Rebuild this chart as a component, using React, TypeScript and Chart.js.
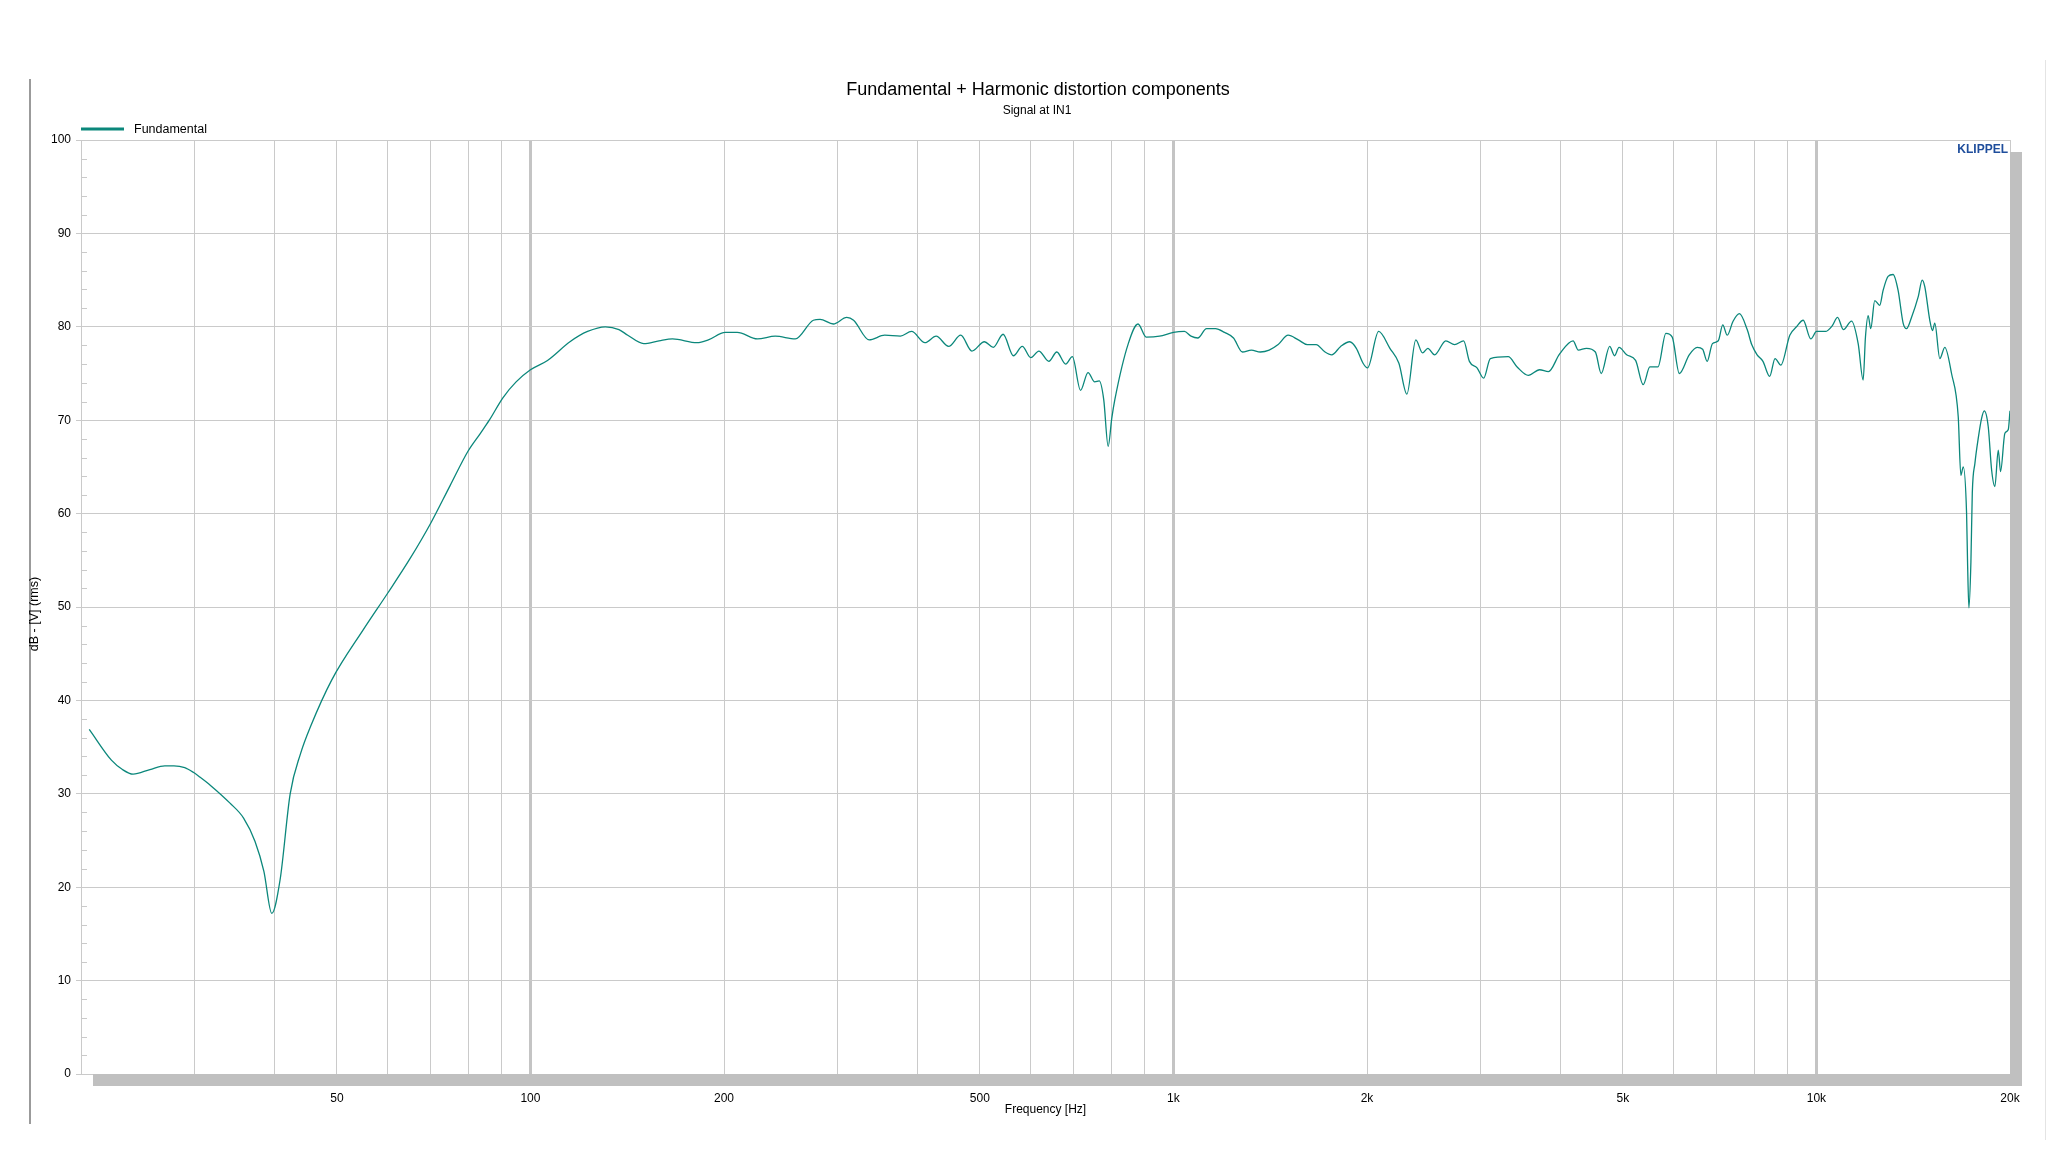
import { useEffect, useRef } from "react";
import { Chart, registerables } from "chart.js";

Chart.register(...registerables);

// ---------- data ----------
const FREQ_HZ = [
  20.6, 22.3, 23.2, 24.1, 25.6, 27.0, 27.9, 29.0, 29.9, 30.6, 31.8, 34.1, 35.8, 37.3, 38.5, 39.6, 40.8, 42.3, 43.9, 45.5,
  49.1, 55, 60, 65, 70, 75, 80, 83.6, 86.3, 90.6, 95, 100, 106.3, 115.2, 122.7, 130.8, 137.3, 141.7, 150, 158.5,
  166.3, 181.6, 189.1, 200.9, 209.7, 225.4, 240.3, 258.2, 275.4, 282.1, 295.9, 310.4, 318.1, 336.3, 355.6, 376.1, 391.5,
  410.8, 427.5, 447.1, 466.9, 485.9, 508.2, 524.6, 543.4, 563.8, 582, 600, 617.6, 640.1, 658.6, 679.8, 696.3, 717,
  736.5, 754.4, 766.6, 779.1, 791.6, 801.8, 810.7, 850.7, 881, 907, 951.5, 1000, 1040, 1065, 1091, 1126, 1163, 1201,
  1240, 1280, 1322, 1365, 1409, 1455, 1508, 1564, 1615, 1667, 1721, 1763, 1820, 1880, 1925, 1972, 2004, 2085, 2171,
  2242, 2307, 2382, 2440, 2487, 2548, 2652, 2737, 2827, 2886, 2966, 3037, 3111, 3316, 3424, 3564, 3710, 3830, 3987,
  4183, 4263, 4388, 4531, 4627, 4769, 4853, 4932, 5068, 5233, 5377, 5508, 5669, 5833, 5967, 6120, 6341, 6526, 6653,
  6761, 6891, 7037, 7150, 7266, 7419, 7589, 7804, 7931, 8086, 8257, 8458, 8623, 8804, 9090, 9311, 9536, 9801, 10005,
  10330, 10580, 10787, 11013, 11338, 11612, 11821, 11919, 12035, 12147, 12322, 12543, 12697, 12924, 13158, 13397,
  13640, 13805, 14055, 14395, 14605, 14740, 15007, 15152, 15278, 15555, 15837, 16222, 16615, 16772, 16917, 17120,
  17180, 17263, 17387, 17474, 17640, 17853, 18065, 18239, 18501, 18724, 18945, 19177, 19337, 19638, 19879, 20000,
];

const LEVEL_DB = [
  36.9, 33.6, 32.6, 32.1, 32.6, 33.0, 33.0, 32.8, 32.3, 31.8, 30.9, 29.0, 27.4, 24.9, 21.7, 17.2, 20.8, 30.0, 34.3, 37.2,
  42.2, 47.6, 51.5, 55.2, 59.0, 63.0, 66.7, 68.6, 70.0, 72.4, 74.1, 75.4, 76.4, 78.4, 79.5, 80.0, 79.7, 79.1, 78.2, 78.5,
  78.7, 78.3, 78.6, 79.4, 79.4, 78.7, 79.0, 78.7, 80.7, 80.8, 80.3, 81.0, 80.7, 78.6, 79.1, 79.0, 79.5,
  78.3, 79.0, 77.9, 79.1, 77.4, 78.4, 77.8, 79.2, 76.9, 77.9, 76.7, 77.4, 76.3, 77.3, 76.0, 76.8, 73.2,
  75.1, 74.1, 74.2, 72.2, 67.2, 70.2, 72.2, 78.2, 80.3, 78.9, 79.0, 79.4, 79.5, 79.0, 78.8, 79.8, 79.8, 79.4,
  78.8, 77.3, 77.5, 77.3, 77.5, 78.1, 79.1, 78.6, 78.1, 78.1, 77.3, 77.0, 77.9, 78.4, 77.7, 76.1, 75.6, 79.5, 77.7,
  76.1, 72.8, 78.6, 77.2, 77.7, 77.0, 78.5, 78.1, 78.5, 76.3, 75.6, 74.5, 76.6, 76.8, 75.7, 74.8, 75.4, 75.2, 77.1,
  78.5, 77.5, 77.7, 77.3, 75.0, 77.9, 76.9, 77.8, 77.0, 76.4, 73.8, 75.7, 75.7, 79.3, 78.9, 75.0, 77.0, 77.8, 77.6,
  76.3, 78.2, 78.5, 80.2, 79.1, 80.6, 81.4, 79.7, 78.1, 77.0, 76.3, 74.7, 76.6, 75.9, 79.1, 80.0, 80.7, 78.7, 79.5,
  79.5, 80.1, 81.0, 79.7, 80.6, 78.2, 74.3, 78.9, 81.2, 79.8, 82.8, 82.3, 83.9, 85.4, 85.6, 83.9,
  80.4, 79.8, 81.0, 83.2, 85.0, 84.3, 80.7, 79.6, 80.4, 76.6, 77.8, 75.0, 70.4, 64.1, 65.0, 60.0,
  54.8, 49.9, 54.8, 62.2, 65.4, 68.1, 70.2, 71.0, 69.3, 64.7, 62.9, 66.8, 64.5, 68.6, 69.0, 71.0,
];

const X_GRID_HZ = [
  20, 30, 40, 50, 60, 70, 80, 90, 100, 200, 300, 400, 500, 600, 700, 800, 900, 1000,
  2000, 3000, 4000, 5000, 6000, 7000, 8000, 9000, 10000, 20000,
];
const X_LABEL_HZ = [50, 100, 200, 500, 1000, 2000, 5000, 10000, 20000];
const X_LABEL_TEXT = ["50", "100", "200", "500", "1k", "2k", "5k", "10k", "20k"];
const X_DECADES_HZ = [100, 1000, 10000];

const Y_MIN = 0;
const Y_MAX = 100;
const Y_STEP = 10;
const Y_MINOR_STEP = 2;

const SERIES_LABEL = "Fundamental";
const TITLE = "Fundamental + Harmonic distortion components";
const SUBTITLE = "Signal at IN1";
const X_TITLE = "Frequency [Hz]";
const Y_TITLE = "dB - [V] (rms)";
const BRAND = "KLIPPEL";

// ---------- style ----------
const FONT = "'Liberation Sans', Arial, sans-serif";
const TEAL = "#0b877b";
const GRID = "#cacaca";
const DECADE = "#c4c4c4";
const SHADOW = "#c0c0c0";

export default function App() {
  const ref = useRef<HTMLCanvasElement>(null);

  useEffect(() => {
    document.body.style.margin = "0";
    const canvas = ref.current;
    if (!canvas) return;

    const points = FREQ_HZ.map((f, i) => ({ x: f, y: LEVEL_DB[i] }));

    const deco = {
      id: "deco",
      afterDraw(chart: any) {
        const { ctx, chartArea: a } = chart;
        const ys = chart.scales.y;
        ctx.save();

        // 3D shadow bars
        ctx.fillStyle = SHADOW;
        ctx.fillRect(a.left + 12, a.bottom, a.right - a.left, 12);
        ctx.fillRect(a.right, a.top + 12, 12, a.bottom - a.top);

        // minor y ticks
        ctx.strokeStyle = GRID;
        ctx.lineWidth = 1;
        for (let v = Y_MIN; v <= Y_MAX; v += Y_MINOR_STEP) {
          if (v % Y_STEP === 0) continue;
          const y = Math.round(ys.getPixelForValue(v)) + 0.5;
          ctx.beginPath();
          ctx.moveTo(a.left, y);
          ctx.lineTo(a.left + 6, y);
          ctx.stroke();
        }

        // outer frame lines
        ctx.strokeStyle = "#7a7a7a";
        ctx.lineWidth = 1.5;
        ctx.beginPath();
        ctx.moveTo(30, 79);
        ctx.lineTo(30, 1124);
        ctx.stroke();
        ctx.strokeStyle = "#e4e4e4";
        ctx.lineWidth = 1;
        ctx.beginPath();
        ctx.moveTo(2045.5, 60);
        ctx.lineTo(2045.5, 1140);
        ctx.stroke();

        // title / subtitle
        ctx.fillStyle = "#000";
        ctx.textAlign = "center";
        ctx.textBaseline = "middle";
        ctx.font = `18px ${FONT}`;
        ctx.fillText(TITLE, 1038, 90);
        ctx.font = `12px ${FONT}`;
        ctx.fillText(SUBTITLE, 1037, 111);

        // legend
        ctx.strokeStyle = TEAL;
        ctx.lineWidth = 3;
        ctx.beginPath();
        ctx.moveTo(81, 129);
        ctx.lineTo(124, 129);
        ctx.stroke();
        ctx.textAlign = "left";
        ctx.font = `12.5px ${FONT}`;
        ctx.fillText(SERIES_LABEL, 134, 129.5);

        // axis titles
        ctx.textAlign = "center";
        ctx.font = `12px ${FONT}`;
        ctx.fillText(X_TITLE, (a.left + a.right) / 2, 1110);
        ctx.save();
        ctx.translate(35, 614);
        ctx.rotate(-Math.PI / 2);
        ctx.font = `12.5px ${FONT}`;
        ctx.fillText(Y_TITLE, 0, 0);
        ctx.restore();

        // brand
        ctx.fillStyle = "#1f4e9c";
        ctx.textAlign = "right";
        ctx.font = `bold 12px ${FONT}`;
        ctx.fillText(BRAND, a.right - 2, 150);

        ctx.restore();
      },
    };

    const chart = new Chart(canvas, {
      type: "line",
      data: {
        datasets: [
          {
            label: SERIES_LABEL,
            data: points,
            borderColor: TEAL,
            borderWidth: 1.3,
            pointRadius: 0,
            fill: false,
            cubicInterpolationMode: "monotone",
          },
        ],
      },
      options: {
        responsive: false,
        animation: false,
        devicePixelRatio: 1,
        layout: { padding: { top: 140, right: 38, bottom: 0, left: 0 } },
        plugins: {
          legend: { display: false },
          title: { display: false },
          tooltip: { enabled: false },
        },
        scales: {
          x: {
            type: "logarithmic",
            min: 20,
            max: 20000,
            afterBuildTicks: (s: any) => {
              s.ticks = X_GRID_HZ.map((v) => ({ value: v }));
            },
            afterFit: (s: any) => {
              s.height = 78;
            },
            border: { display: false },
            grid: {
              drawTicks: false,
              color: (c: any) => (X_DECADES_HZ.includes(c.tick?.value) ? DECADE : GRID),
              lineWidth: (c: any) => (X_DECADES_HZ.includes(c.tick?.value) ? 3 : 1),
            },
            ticks: {
              autoSkip: false,
              maxRotation: 0,
              padding: 17,
              color: "#000",
              font: { family: FONT, size: 12 },
              callback: (v: any) => {
                const i = X_LABEL_HZ.indexOf(Number(v));
                return i >= 0 ? X_LABEL_TEXT[i] : "";
              },
            },
          },
          y: {
            min: Y_MIN,
            max: Y_MAX,
            afterFit: (s: any) => {
              s.width = 81;
            },
            border: { display: true, color: GRID },
            grid: { color: GRID, tickLength: 5 },
            ticks: {
              stepSize: Y_STEP,
              padding: 5,
              color: "#000",
              font: { family: FONT, size: 12 },
            },
          },
        },
      },
      plugins: [deco],
    } as any);

    return () => chart.destroy();
  }, []);

  return (
    <div style={{ position: "fixed", left: 0, top: 0, width: 2048, height: 1152, background: "#fff" }}>
      <canvas ref={ref} width={2048} height={1152} style={{ display: "block", width: 2048, height: 1152 }} />
    </div>
  );
}
